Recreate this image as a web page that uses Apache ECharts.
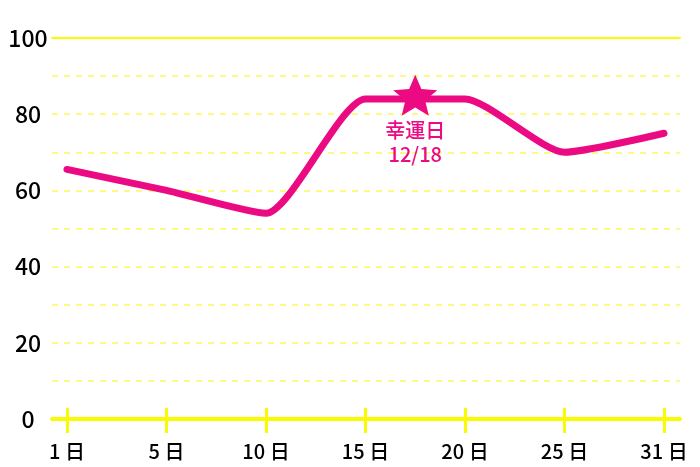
<!DOCTYPE html>
<html><head><meta charset="utf-8">
<script src="https://cdn.jsdelivr.net/npm/echarts@6/dist/echarts.min.js"></script>
<style>html,body{margin:0;padding:0;background:#fff}#c{width:700px;height:467px}</style>
</head><body><div id="c"></div>
<script>
const categories = ['1 日', '5 日', '10 日', '15 日', '20 日', '25 日', '31 日'];
const values = [65.5, 60, 54, 84, 84, 70, 75];
const yMin = 0, yMax = 100, yStep = 10, yLabelStep = 20;
const starPoint = [3.5, 85];
const starLabel = ['幸運日', '12/18'];

const PINK = '#ec0a82';
const YEL = '#fbfb00';
const FONT = '"Noto Sans CJK JP", "Noto Sans", sans-serif';
const STAR = 'path://M50,0 L63.2,31.8 L97.6,34.5 L71.4,56.9 L79.4,90.5 L50,72.5 L20.6,90.5 L28.6,56.9 L2.4,34.5 L36.8,31.8 Z';

const chart = echarts.init(document.getElementById('c'), null, {renderer: 'canvas'});
chart.setOption({
  animation: false,
  grid: [
    {left: 52, right: 20, top: 38, bottom: 48},
    {left: 67, right: 36, top: 38, bottom: 48},
    {left: 67, right: 36, top: 38, bottom: 48}
  ],
  xAxis: [
    {gridIndex: 0, type: 'value', min: 0, max: 1, position: 'bottom',
     axisLine: {show: true, lineStyle: {color: YEL, width: 4}},
     axisTick: {show: false}, axisLabel: {show: false}, splitLine: {show: false}},
    {gridIndex: 0, type: 'value', min: 0, max: 1, position: 'top',
     axisLine: {show: true, lineStyle: {color: YEL, width: 2}},
     axisTick: {show: false}, axisLabel: {show: false}, splitLine: {show: false}},
    {gridIndex: 1, type: 'category', data: categories, boundaryGap: false, position: 'bottom',
     axisLine: {show: false},
     axisTick: {show: true, inside: false, length: 14, lineStyle: {color: YEL, width: 3}},
     axisLabel: {show: true, margin: 22, color: '#000', fontSize: 20, fontWeight: 500, fontFamily: FONT},
     splitLine: {show: false}},
    {gridIndex: 1, type: 'value', min: 0, max: categories.length - 1, position: 'top', show: false},
    {gridIndex: 2, type: 'category', data: categories, boundaryGap: false, position: 'bottom',
     axisLine: {show: false},
     axisTick: {show: true, inside: true, length: 11, lineStyle: {color: YEL, width: 3}},
     axisLabel: {show: false}, splitLine: {show: false}}
  ],
  yAxis: [
    {gridIndex: 0, type: 'value', min: yMin, max: yMax, interval: yStep,
     axisLine: {show: false}, axisTick: {show: false},
     axisLabel: {align: 'center', margin: 24, color: '#000', fontSize: 23, fontWeight: 500, fontFamily: FONT,
       formatter: v => (v % yLabelStep === 0 ? String(v) : '')},
     splitLine: {show: true, lineStyle: {color: '#fdf75a', width: 1.5, type: [6, 6]}}},
    {gridIndex: 1, type: 'value', min: yMin, max: yMax, show: false},
    {gridIndex: 2, type: 'value', min: yMin, max: yMax, show: false}
  ],
  series: [
    {type: 'line', xAxisIndex: 2, yAxisIndex: 1, data: values, smooth: 0.2,
     symbol: 'none', lineStyle: {color: PINK, width: 7, cap: 'round', join: 'round'}, z: 3},
    {type: 'scatter', xAxisIndex: 3, yAxisIndex: 1, data: [starPoint],
     symbol: STAR, symbolSize: [44, 41], itemStyle: {color: PINK, opacity: 1}, z: 4,
     label: {show: true, position: 'bottom', distance: 3, color: PINK, fontSize: 20, fontWeight: 500,
       lineHeight: 24, fontFamily: FONT, formatter: starLabel.join('\n')}}
  ]
});
</script></body></html>
